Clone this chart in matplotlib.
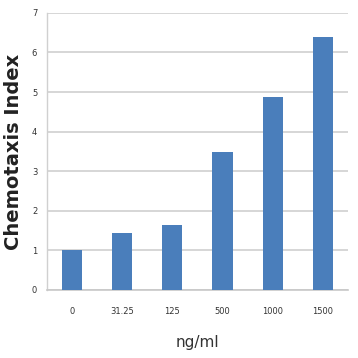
import numpy as np
import matplotlib.pyplot as plt

# data
concentrations = ['0', '31.25', '125', '500', '1000', '1500']
chemotaxis_index = [1.0, 1.44, 1.65, 3.48, 4.87, 6.39]
y_ticks = [0, 1, 2, 3, 4, 5, 6, 7]

fig = plt.figure(figsize=(3.58, 3.58), dpi=100)
ax = fig.add_axes([0.131, 0.19, 0.841, 0.774])

x = np.arange(len(concentrations))
ax.bar(x, chemotaxis_index, width=0.4, color='#4a7ebb', zorder=3)

ax.set_xlim(-0.5, len(concentrations) - 0.5)
ax.set_ylim(0, 7)
ax.set_yticks(y_ticks)
ax.set_yticklabels([str(t) for t in y_ticks], fontsize=6, color='#333333')
ax.set_xticks(x)
ax.set_xticklabels(concentrations, fontsize=6, color='#333333')
ax.tick_params(axis='x', length=0, pad=12)
ax.tick_params(axis='y', length=0, pad=7)

# light horizontal grid
ax.yaxis.grid(True, color='#d0d0d0', linewidth=1.2, zorder=0)
ax.set_axisbelow(True)
for side in ['top', 'right']:
    ax.spines[side].set_visible(False)
ax.spines['left'].set_color('#d0d0d0')
ax.spines['bottom'].set_color('#c8c8c8')
ax.spines['left'].set_linewidth(1.0)
ax.spines['bottom'].set_linewidth(1.2)

ax.set_xlabel('ng/ml', fontsize=11, color='#333333', labelpad=14)
ax.set_ylabel('Chemotaxis Index', fontsize=14, fontweight='bold', color='#222222', labelpad=6)

fig.savefig('out.png', dpi=100, facecolor='white')
